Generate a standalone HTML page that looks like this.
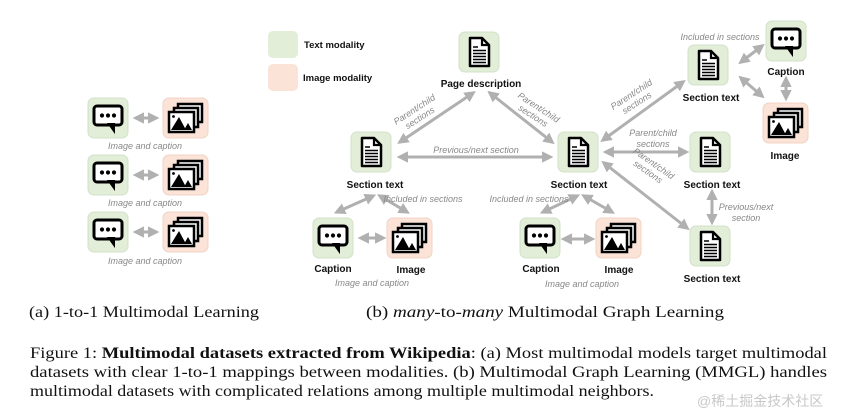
<!DOCTYPE html>
<html><head><meta charset="utf-8"><style>
html,body{margin:0;padding:0;background:#fff}
svg{display:block}
.lb{font-family:"Liberation Sans",sans-serif;font-weight:bold;font-size:10px;fill:#111;text-anchor:middle}
.el{font-family:"Liberation Sans",sans-serif;font-style:italic;font-size:9px;fill:#888;text-anchor:middle}
.cap{font-family:"Liberation Serif",serif;font-size:16px;fill:#111}
.a{stroke:#b0b0b0;stroke-width:3;marker-start:url(#m);marker-end:url(#m)}
</style></head><body>
<svg width="864" height="415" viewBox="0 0 864 415" xmlns="http://www.w3.org/2000/svg">
<defs>
<marker id="m" viewBox="0 0 10 10" refX="7" refY="5" markerWidth="3.8" markerHeight="3.8" orient="auto-start-reverse"><path d="M0 0L10 5L0 10Z" fill="#b0b0b0"/></marker>
<g id="doc">
<rect x="0" y="0" width="40" height="40" rx="6" fill="#e2eed8" stroke="#d3e0c8"/>
<path d="M11 6H23L30 13V34H11Z" fill="#fff" stroke="#000" stroke-width="2.5" stroke-linejoin="round"/>
<path d="M23 6V13H30" fill="none" stroke="#000" stroke-width="2.2"/>
<path d="M14 15H19M14 18.5H27M14 21.5H27M14 24.5H27M14 27.5H27M14 30.5H27" stroke="#000" stroke-width="1.6"/>
</g>
<g id="chat">
<rect x="0" y="0" width="40" height="40" rx="6" fill="#e2eed8" stroke="#d3e0c8"/>
<rect x="6" y="8" width="28" height="19" rx="3" fill="#fff" stroke="#000" stroke-width="3"/>
<path d="M21 26L26 33L26 26Z" fill="#000" stroke="#000" stroke-width="2"/>
<circle cx="14" cy="17.5" r="2.1"/><circle cx="20" cy="17.5" r="2.1"/><circle cx="26" cy="17.5" r="2.1"/>
</g>
<g id="img">
<rect x="0" y="0" width="45" height="40" rx="6" fill="#fbe3d7" stroke="#f0d3c4"/>
<rect x="15" y="6" width="24" height="18" fill="#fff" stroke="#000" stroke-width="2.5"/>
<rect x="11" y="10" width="24" height="19" fill="#fff" stroke="#000" stroke-width="2.5"/>
<rect x="6" y="14" width="25" height="20" fill="#fff" stroke="#000" stroke-width="2.5"/>
<path d="M8 32L16 19L23 32Z M21 32L25 25L29 32Z" fill="#000"/>
<circle cx="10.5" cy="18.5" r="1.4"/>
</g>
</defs>

<use href="#chat" x="88" y="98"/><use href="#img" x="163" y="98"/>
<use href="#chat" x="88" y="155"/><use href="#img" x="163" y="155"/>
<use href="#chat" x="88" y="212"/><use href="#img" x="163" y="212"/>
<line class="a" x1="136" y1="118" x2="156" y2="118"/>
<line class="a" x1="136" y1="175" x2="156" y2="175"/>
<line class="a" x1="136" y1="232" x2="156" y2="232"/>
<text class="el" x="145" y="149" font-size="9.5">Image and caption</text>
<text class="el" x="145" y="206" font-size="9.5">Image and caption</text>
<text class="el" x="145" y="264" font-size="9.5">Image and caption</text>

<rect x="268" y="31" width="30" height="27" rx="5" fill="#e2eed8"/>
<rect x="268" y="64" width="30" height="27" rx="5" fill="#fbe3d7"/>
<text class="lb" x="304" y="48" style="text-anchor:start;font-size:9.5px">Text modality</text>
<text class="lb" x="303" y="81" style="text-anchor:start;font-size:9.5px">Image modality</text>

<line class="a" x1="473" y1="93" x2="400" y2="142"/>
<line class="a" x1="490" y1="93" x2="552" y2="142"/>
<line class="a" x1="400" y1="157" x2="550" y2="157"/>
<line class="a" x1="603" y1="140" x2="683" y2="82"/>
<line class="a" x1="606" y1="152" x2="686" y2="152"/>
<line class="a" x1="604" y1="163" x2="687" y2="228"/>
<line class="a" x1="712" y1="192" x2="712" y2="222"/>
<line class="a" x1="741" y1="62" x2="762" y2="46"/>
<line class="a" x1="741" y1="78" x2="762" y2="96"/>
<line class="a" x1="786" y1="79" x2="786" y2="98"/>
<line class="a" x1="373" y1="196" x2="337" y2="212"/>
<line class="a" x1="380" y1="196" x2="407" y2="212"/>
<line class="a" x1="361" y1="238" x2="383" y2="238"/>
<line class="a" x1="577" y1="196" x2="543" y2="212"/>
<line class="a" x1="584" y1="196" x2="612" y2="212"/>
<line class="a" x1="564" y1="239" x2="592" y2="239"/>

<use href="#doc" x="459" y="32"/><text class="lb" x="481" y="87">Page description</text>
<use href="#doc" x="351" y="132"/><text class="lb" x="375" y="188">Section text</text>
<use href="#doc" x="558" y="132"/><text class="lb" x="579" y="188">Section text</text>
<use href="#doc" x="688" y="45"/><text class="lb" x="711" y="101">Section text</text>
<use href="#doc" x="690" y="132"/><text class="lb" x="712" y="188">Section text</text>
<use href="#doc" x="690" y="226"/><text class="lb" x="712" y="282">Section text</text>
<use href="#chat" x="766" y="21"/><text class="lb" x="786" y="75">Caption</text>
<use href="#img" x="763" y="103"/><text class="lb" x="785" y="159">Image</text>
<use href="#chat" x="313" y="218"/><text class="lb" x="333" y="272">Caption</text>
<use href="#img" x="387" y="218"/><text class="lb" x="411" y="273">Image</text>
<text class="el" x="372" y="286">Image and caption</text>
<use href="#chat" x="520" y="218"/><text class="lb" x="541" y="272">Caption</text>
<use href="#img" x="596" y="218"/><text class="lb" x="619" y="273">Image</text>
<text class="el" x="582" y="287">Image and caption</text>

<g transform="translate(416,112) rotate(-33)"><text class="el" x="0" y="0">Parent/child</text><text class="el" x="0" y="10">sections</text></g>
<g transform="translate(537,110) rotate(33)"><text class="el" x="0" y="0">Parent/child</text><text class="el" x="0" y="10">sections</text></g>
<text class="el" x="476" y="153">Previous/next section</text>
<g transform="translate(633,97) rotate(-33)"><text class="el" x="0" y="0">Parent/child</text><text class="el" x="0" y="10">sections</text></g>
<text class="el" x="653" y="136">Parent/child</text><text class="el" x="653" y="147">sections</text>
<g transform="translate(652,166) rotate(35)"><text class="el" x="0" y="0">Parent/child</text><text class="el" x="0" y="10">sections</text></g>
<text class="el" x="746" y="210">Previous/next</text><text class="el" x="746" y="221">section</text>
<text class="el" x="720" y="40">Included in sections</text>
<text class="el" x="423" y="202">Included in sections</text>
<text class="el" x="529" y="202">Included in sections</text>

<text class="cap" x="29" y="317" textLength="230" lengthAdjust="spacingAndGlyphs">(a) 1-to-1 Multimodal Learning</text>
<text class="cap" x="366" y="317" textLength="358" lengthAdjust="spacingAndGlyphs">(b) <tspan font-style="italic">many</tspan>-to-<tspan font-style="italic">many</tspan> Multimodal Graph Learning</text>
<text class="cap" x="30" y="358" textLength="797" lengthAdjust="spacingAndGlyphs">Figure 1: <tspan font-weight="bold">Multimodal datasets extracted from Wikipedia</tspan>: (a) Most multimodal models target multimodal</text>
<text class="cap" x="30" y="377" textLength="797" lengthAdjust="spacingAndGlyphs">datasets with clear 1-to-1 mappings between modalities. (b) Multimodal Graph Learning (MMGL) handles</text>
<text class="cap" x="30" y="396" textLength="624" lengthAdjust="spacingAndGlyphs">multimodal datasets with complicated relations among multiple multimodal neighbors.</text>
<text x="697" y="406" font-family="Liberation Sans,'Noto Sans CJK SC',sans-serif" font-size="14" fill="#c8c8c8">@稀土掘金技术社区</text>
</svg>
</body></html>
